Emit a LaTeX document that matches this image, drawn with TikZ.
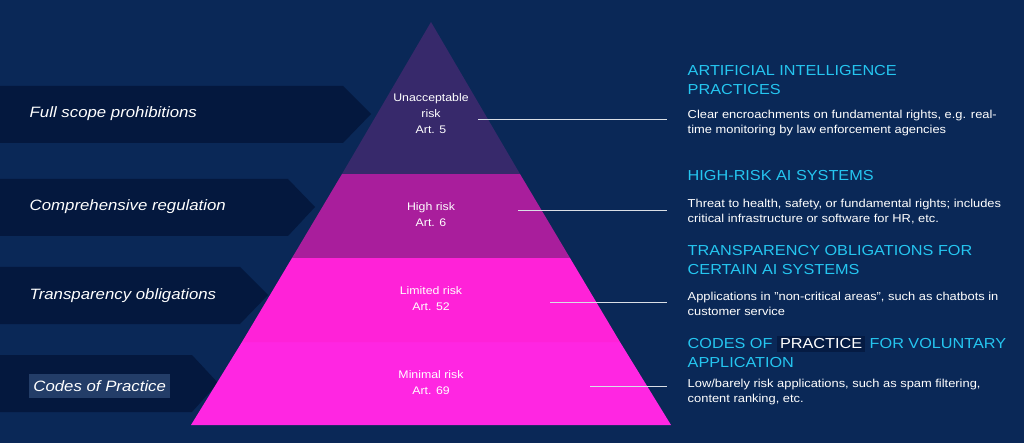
\documentclass[tikz,border=0pt]{standalone}
\usepackage{fontspec}
\setmainfont{Liberation Sans}[FakeStretch=1.12]
\usepackage{xcolor}
\usetikzlibrary{positioning,calc}
\definecolor{bgblue}{HTML}{0A2857}
\definecolor{tabnavy}{HTML}{04183E}
\definecolor{tierone}{HTML}{37296B}
\definecolor{tiertwo}{HTML}{A91E9C}
\definecolor{tierthree}{HTML}{FF22D8}
\definecolor{tierfour}{HTML}{FF26E2}
\definecolor{headcyan}{HTML}{25C6F0}

\begin{document}
\begin{tikzpicture}[x=1pt, y=-1pt, thick,
    tab/.style={fill=tabnavy, draw=none},
    tablabel/.style={anchor=west, text=white, font=\fontsize{15}{17}\selectfont\itshape},
    tierlabel/.style={align=center, text=white, font=\fontsize{11}{16}\selectfont},
    heading/.style={anchor=north west, align=left, text=headcyan, font=\fontsize{14.5}{19}\selectfont},
    desc/.style={anchor=north west, align=left, text=white, font=\fontsize{11.5}{15}\selectfont},
    leader/.style={draw=white!85!bgblue, line width=1pt}]
    % Background
    \fill[bgblue] (0,0) rectangle (1024,443);
    \useasboundingbox (0,0) rectangle (1024,443);

    % Left tabs
    \fill[tab] (0,86) -- (343,86) -- (371,114) -- (343,143) -- (0,143) -- cycle;
    \fill[tab] (0,179) -- (288,179) -- (315,207) -- (288,236) -- (0,236) -- cycle;
    \fill[tab] (0,267) -- (240,267) -- (268,295) -- (240,324) -- (0,324) -- cycle;
    \fill[tab] (0,355) -- (192,355) -- (218,383) -- (192,412) -- (0,412) -- cycle;
    \node[tablabel] (full) at (26,114) {Full scope prohibitions};
    \node[tablabel] (comp) at (26,207) {Comprehensive regulation};
    \node[tablabel] (trans) at (26,296) {Transparency obligations};
    \node[tablabel, fill=bgblue!90!white, inner xsep=4pt, inner ysep=6pt] (codes) at (29,386) {Codes of Practice};

    % Pyramid
    \coordinate (apex) at (431,22);
    \fill[tierfour] (242,342) -- (620,342) -- (671,425) -- (191,425) -- cycle;
    \fill[tierthree] (292,258) -- (570,258) -- (620,342) -- (242,342) -- cycle;
    \fill[tiertwo] (342,174) -- (520,174) -- (570,258) -- (292,258) -- cycle;
    \fill[tierone] (apex) -- (520,174) -- (342,174) -- cycle;
    \node[tierlabel] (unacc) at (431,114) {Unacceptable\\risk\\Art. 5};
    \node[tierlabel] (high) at (431,215) {High risk\\Art. 6};
    \node[tierlabel] (limited) at (431,299) {Limited risk\\Art. 52};
    \node[tierlabel] (minimal) at (431,383) {Minimal risk\\Art. 69};

    % Leader lines
    \coordinate (e1) at (667,120);
    \coordinate (e2) at (667,211);
    \coordinate (e3) at (667,302);
    \coordinate (e4) at (667,386);
    \draw[leader] (478,120) coordinate (s1) -- (e1);
    \draw[leader] (518,211) coordinate (s2) -- (e2);
    \draw[leader] (550,302) coordinate (s3) -- (e3);
    \draw[leader] (590,386) coordinate (s4) -- (e4);

    % Right descriptions
    \node[heading] (h1) at (684,62) {ARTIFICIAL INTELLIGENCE\\PRACTICES};
    \node[desc] (d1) at (684,106) {Clear encroachments on fundamental rights, e.g. real-\\time monitoring by law enforcement agencies};
    \node[heading] (h2) at (684,167) {HIGH-RISK AI SYSTEMS};
    \node[desc] (d2) at (684,195) {Threat to health, safety, or fundamental rights; includes\\critical infrastructure or software for HR, etc.};
    \node[heading] (h3) at (684,242) {TRANSPARENCY OBLIGATIONS FOR\\CERTAIN AI SYSTEMS};
    \node[desc] (d3) at (684,288) {Applications in "non-critical areas", such as chatbots in\\customer service};
    \node[heading] (h4) at (684,332) {CODES OF \colorbox{tabnavy!80!bgblue}{\textcolor{white}{PRACTICE}} FOR VOLUNTARY\\APPLICATION};
    \node[desc] (d4) at (684,375) {Low/barely risk applications, such as spam filtering,\\content ranking, etc.};
\end{tikzpicture}
\end{document}
